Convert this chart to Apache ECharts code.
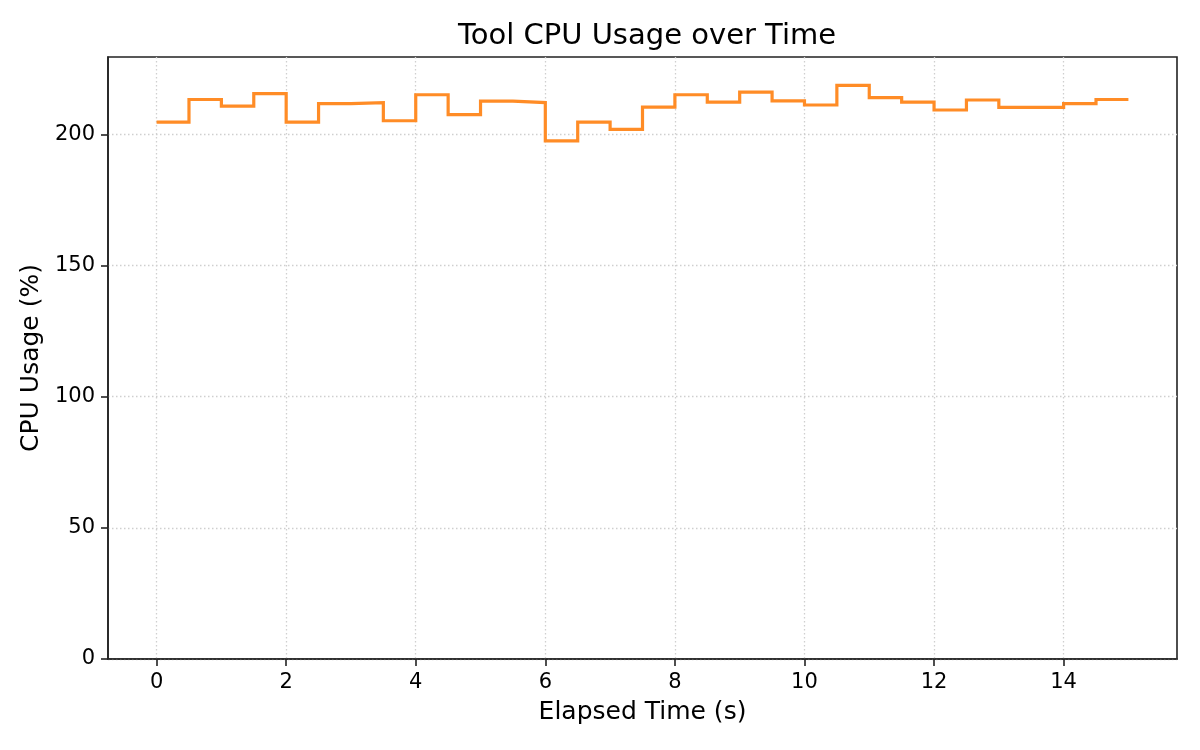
<!DOCTYPE html>
<html>
<head>
<meta charset="utf-8">
<script src="https://cdn.jsdelivr.net/npm/echarts@6/dist/echarts.min.js"></script>
<style>
  html, body { margin: 0; padding: 0; background: #fff; }
  #chart { width: 1200px; height: 750px; }
</style>
</head>
<body>
<div id="chart"></div>
<script>
// sample times (s), one sample every 0.5 s
const times = [0, 0.5, 1, 1.5, 2, 2.5, 3, 3.5, 4, 4.5, 5, 5.5, 6, 6.5, 7, 7.5,
  8, 8.5, 9, 9.5, 10, 10.5, 11, 11.5, 12, 12.5, 13, 13.5, 14, 14.5, 15];
// CPU usage (%) at each sample
const cpuUsage = [204.7, 213.3, 210.8, 215.5, 204.7, 211.7, 212.1, 205.2, 215.1, 207.5,
  212.7, 212.1, 197.5, 204.7, 201.9, 210.4, 215.1, 212.3, 216.1, 212.8,
  211.2, 218.7, 214.0, 212.3, 209.3, 213.1, 210.3, 210.3, 211.7, 213.3, 213.3];
const xTicks = [0, 2, 4, 6, 8, 10, 12, 14];
const yTicks = [0, 50, 100, 150, 200];

const font = 'DejaVu Sans';
const chart = echarts.init(document.getElementById('chart'));

const gridLine = { show: true, lineStyle: { color: '#cfcfcf', type: [1.5, 2.5], width: 1.3 } };

chart.setOption({
  animation: false,
  backgroundColor: '#fff',
  title: {
    text: 'Tool CPU Usage over Time',
    left: 642, top: 17, textAlign: 'center',
    textStyle: { fontFamily: font, fontSize: 29, fontWeight: 'normal', color: '#000' }
  },
  grid: { left: 108, right: 23, top: 57, bottom: 91, show: true, borderColor: '#222', borderWidth: 1.6 },
  xAxis: {
    type: 'value',
    min: -0.75, max: 15.75,
    name: 'Elapsed Time (s)',
    nameLocation: 'middle', nameGap: 41,
    nameTextStyle: { fontFamily: font, fontSize: 25, color: '#000' },
    axisLine: { show: true, onZero: false, lineStyle: { color: '#222', width: 1.6 } },
    axisTick: { show: true, customValues: xTicks, length: 7, lineStyle: { color: '#222', width: 1.6 } },
    axisLabel: { customValues: xTicks, fontFamily: font, fontSize: 21, color: '#000', margin: 13 },
    splitLine: gridLine
  },
  yAxis: {
    type: 'value',
    min: 0, max: 229.5, interval: 50,
    name: 'CPU Usage (%)',
    nameLocation: 'middle', nameGap: 62,
    nameTextStyle: { fontFamily: font, fontSize: 25, color: '#000' },
    axisLine: { show: true, onZero: false, lineStyle: { color: '#222', width: 1.6 } },
    axisTick: { show: true, customValues: yTicks, length: 7, lineStyle: { color: '#222', width: 1.6 } },
    axisLabel: { customValues: yTicks, fontFamily: font, fontSize: 21, color: '#000', margin: 13 },
    splitLine: gridLine
  },
  series: [{
    type: 'line',
    step: 'end',
    data: times.map((t, i) => [t, cpuUsage[i]]),
    showSymbol: false,
    lineStyle: { color: '#ff8c26', width: 3.2, join: 'miter' },
    itemStyle: { color: '#ff8c26' }
  }]
});
</script>
</body>
</html>
